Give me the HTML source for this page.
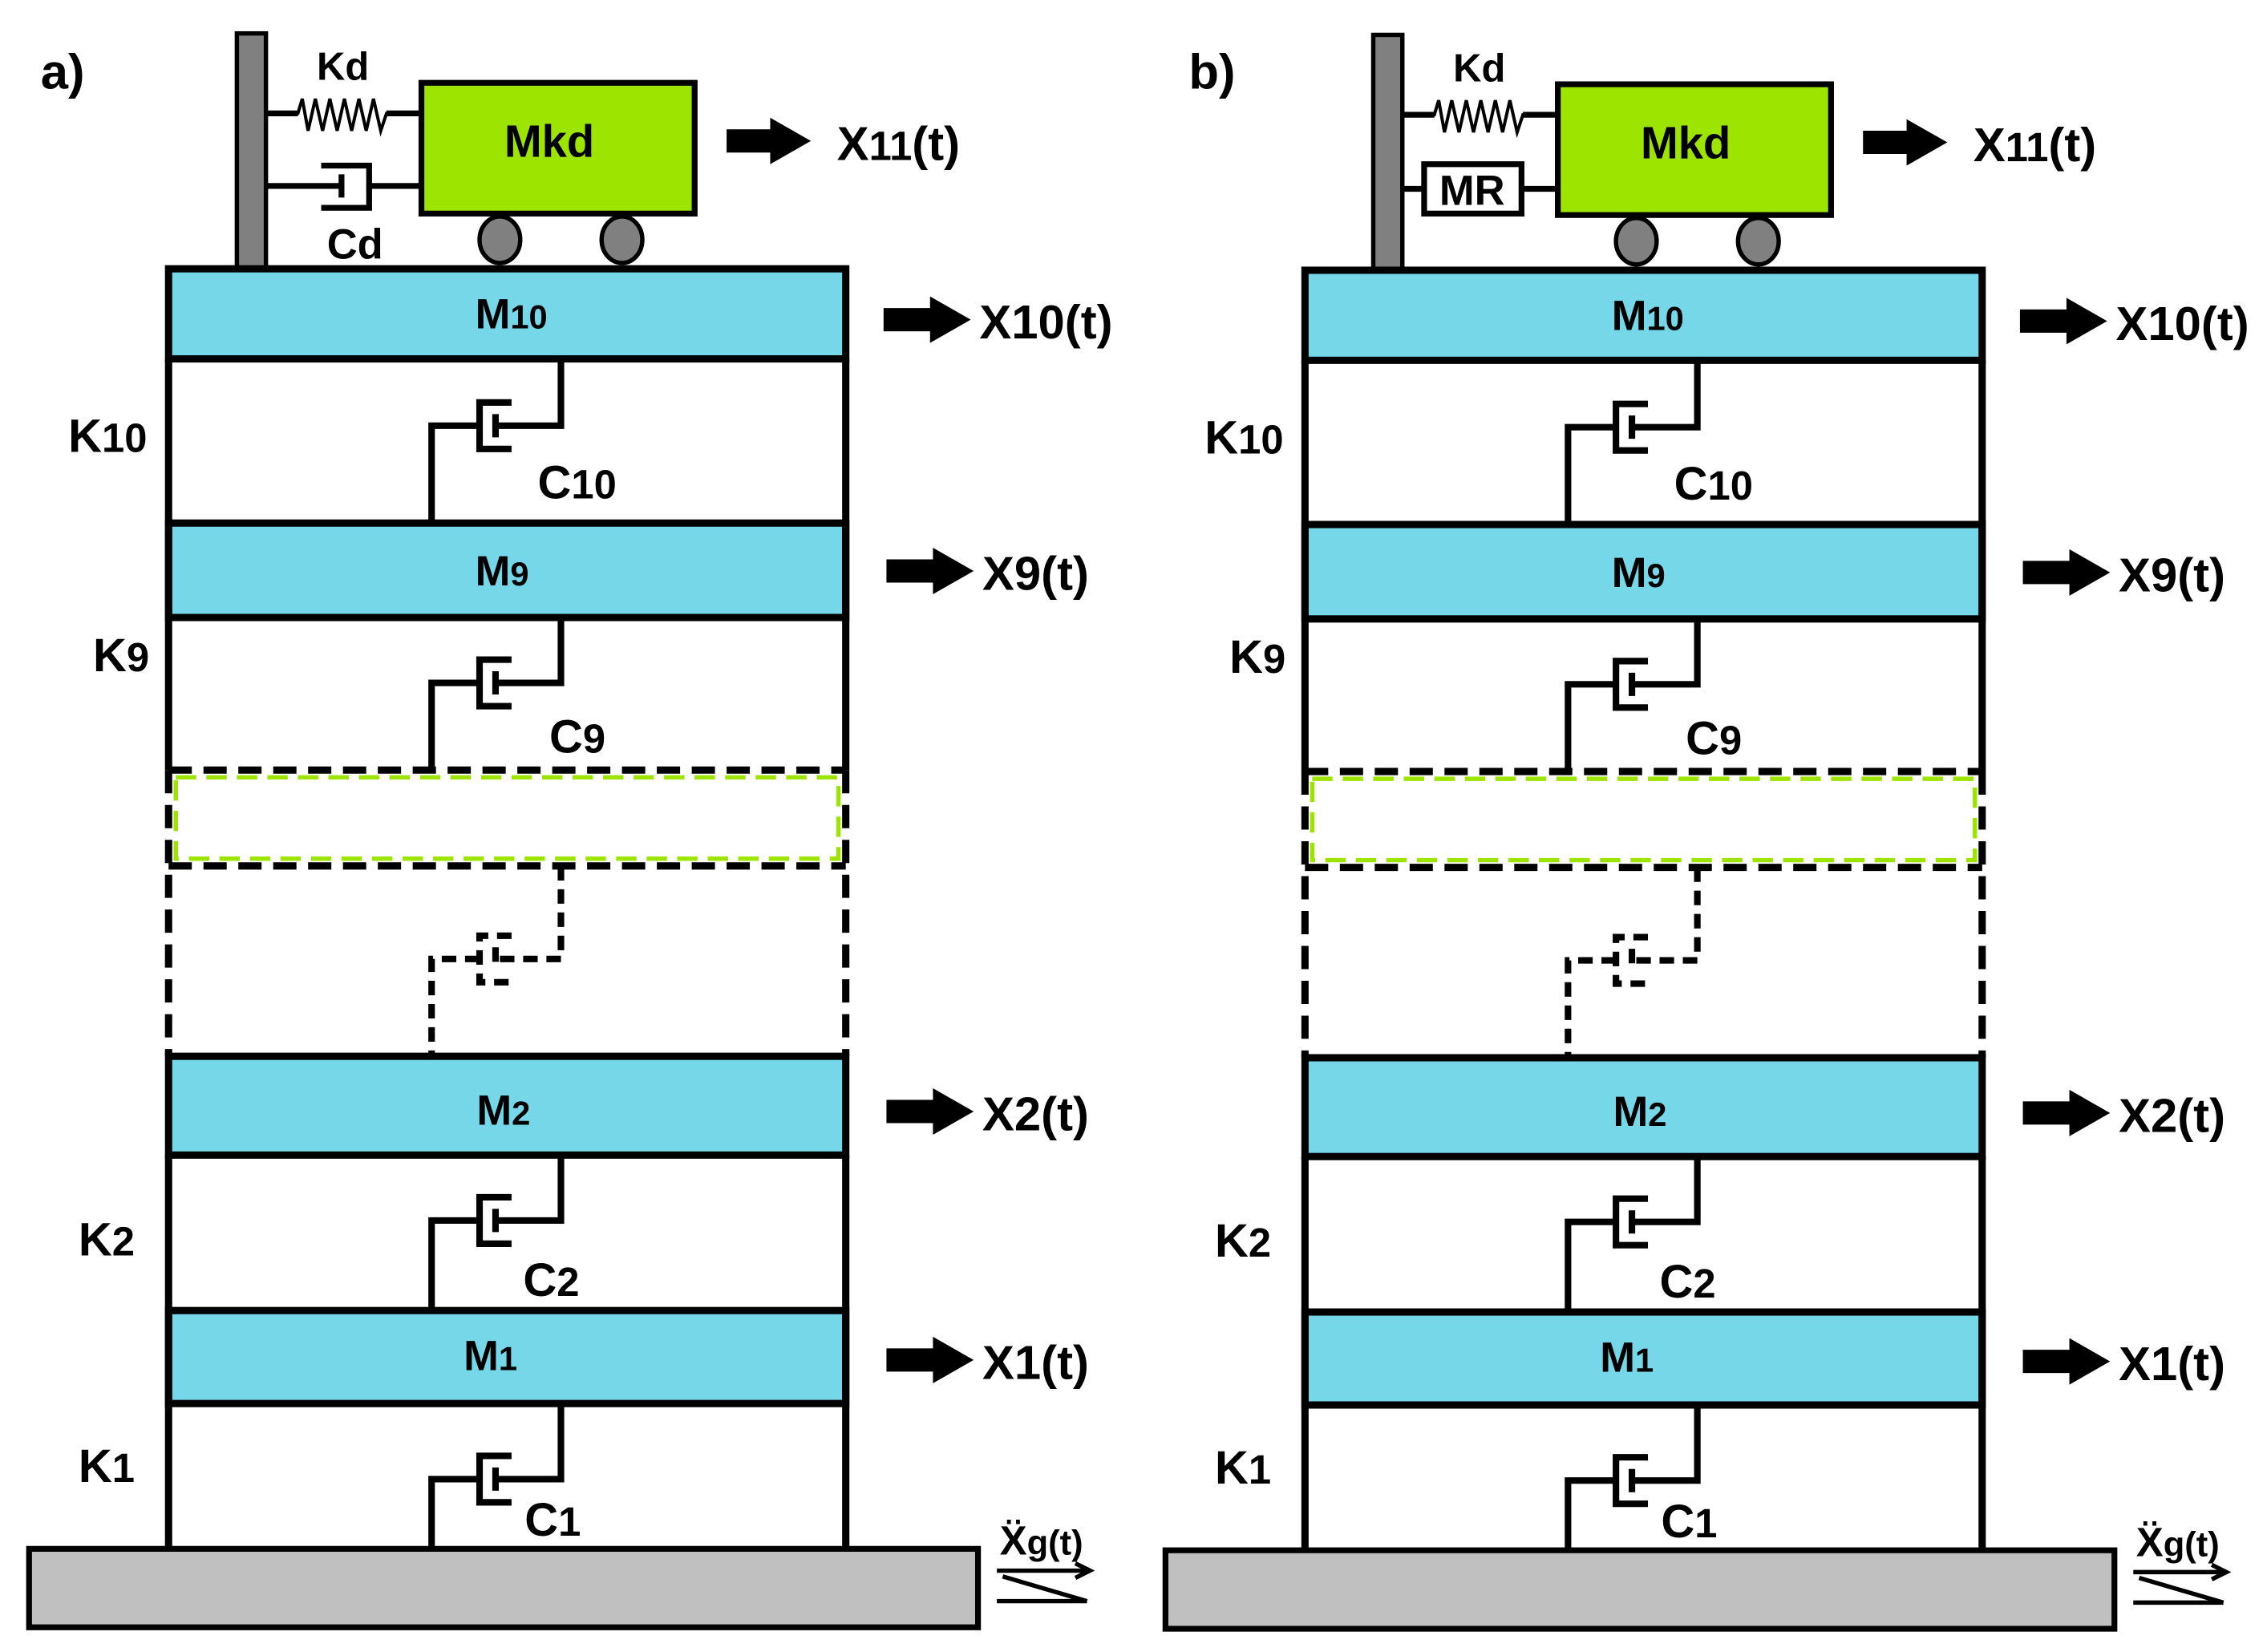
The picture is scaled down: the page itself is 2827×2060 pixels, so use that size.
<!DOCTYPE html>
<html><head><meta charset="utf-8"><style>
html,body{margin:0;padding:0;background:#fff;}
svg{display:block;}
text{font-family:"Liberation Sans Narrow","Liberation Sans",sans-serif;font-weight:bold;fill:#000;}
</style></head><body>
<svg width="2827" height="2060" viewBox="0 0 1560 1137" preserveAspectRatio="none" xmlns="http://www.w3.org/2000/svg">
<defs>
<g id="bld">
  <rect x="163" y="23" width="20" height="162" fill="#808080" stroke="#000" stroke-width="3"/>
  <path d="M183 78 H205 L208 68 L212 90 L217 68 L222 90 L227 68 L232 90 L237 68 L242 90 L247 68 L252 90 L257 68 L262 90 L266 78 H289" fill="none" stroke="#000" stroke-width="2.2"/>
  <path d="M183 78 H205 M266 78 H289" stroke="#000" stroke-width="4"/>
  <rect x="290" y="57" width="188" height="90" fill="#9de400" stroke="#000" stroke-width="4"/>
  <ellipse cx="344" cy="165" rx="14" ry="16" fill="#808080" stroke="#000" stroke-width="3"/>
  <ellipse cx="428" cy="165" rx="14" ry="16" fill="#808080" stroke="#000" stroke-width="3"/>
  <polygon points="500,89 530,89 530,81 558,97 530,113 530,105 500,105" fill="#000"/>
  <g fill="#76d7e8" stroke="#000" stroke-width="5">
    <rect x="116" y="185" width="466" height="62"/>
    <rect x="116" y="360" width="466" height="65"/>
    <rect x="116" y="727" width="466" height="68"/>
    <rect x="116" y="902" width="466" height="64"/>
  </g>
  <g stroke="#000" stroke-width="5">
    <line x1="116" y1="247" x2="116" y2="530"/><line x1="582" y1="247" x2="582" y2="530"/>
    <line x1="116" y1="795" x2="116" y2="1066"/><line x1="582" y1="795" x2="582" y2="1066"/>
  </g>
  <g stroke="#000" stroke-width="5" stroke-dasharray="16 8" fill="none">
    <line x1="116" y1="530" x2="116" y2="727"/><line x1="582" y1="530" x2="582" y2="727"/>
    <line x1="116" y1="530" x2="582" y2="530"/><line x1="116" y1="596" x2="582" y2="596"/>
  </g>
  <rect x="121" y="535" width="456" height="56" fill="#fff" stroke="#9de400" stroke-width="3" stroke-dasharray="14 7"/>
  <g fill="none" stroke="#000" stroke-width="4.5">
    <path d="M386 247 V293 H341 M341 285 V301 M352 277 H330 V309 H352 M330 293 H297 V360"/>
    <path d="M386 425 V470 H341 M341 462 V478 M352 454 H330 V486 H352 M330 470 H297 V530"/>
    <path d="M386 795 V840 H341 M341 832 V848 M352 824 H330 V856 H352 M330 840 H297 V902"/>
    <path d="M386 966 V1018 H341 M341 1010 V1026 M352 1002 H330 V1034 H352 M330 1018 H297 V1066"/>
    <path d="M386 596 V660 H341 M341 652 V668 M352 644 H330 V676 H352 M330 660 H297 V727" stroke-dasharray="10 6"/>
  </g>
  <g fill="#000">
    <polygon points="608,212 640,212 640,204 668,220 640,236 640,228 608,228"/>
    <polygon points="610,385 642,385 642,377 670,393 642,409 642,401 610,401"/>
    <polygon points="610,757 642,757 642,749 670,765 642,781 642,773 610,773"/>
    <polygon points="610,928 642,928 642,920 670,936 642,952 642,944 610,944"/>
  </g>
  <rect x="20" y="1066" width="653" height="54" fill="#c0c0c0" stroke="#000" stroke-width="4"/>
  <path d="M686 1081 H748 M740 1076 L750 1081 L740 1086 M690 1085 L748 1102 M686 1102 H748" fill="none" stroke="#000" stroke-width="3"/>
  <text x="378" y="108" font-size="31" text-anchor="middle">Mkd</text>
  <text x="218" y="55" font-size="27">Kd</text>
  <text x="576" y="110" font-size="33">X<tspan font-size="28">11</tspan>(t)</text>
  <text x="674" y="233" font-size="33">X10(t)</text>
  <text x="676" y="406" font-size="33">X9(t)</text>
  <text x="676" y="778" font-size="33">X2(t)</text>
  <text x="676" y="949" font-size="33">X1(t)</text>
  <text x="327" y="226" font-size="29">M<tspan font-size="23">10</tspan></text>
  <text x="327" y="403" font-size="29">M<tspan font-size="23">9</tspan></text>
  <text x="328" y="774" font-size="29">M<tspan font-size="23">2</tspan></text>
  <text x="319" y="943" font-size="29">M<tspan font-size="23">1</tspan></text>
  <text x="47" y="311" font-size="32">K<tspan font-size="28">10</tspan></text>
  <text x="64" y="462" font-size="32">K<tspan font-size="28">9</tspan></text>
  <text x="54" y="864" font-size="32">K<tspan font-size="28">2</tspan></text>
  <text x="54" y="1020" font-size="32">K<tspan font-size="28">1</tspan></text>
  <text x="370" y="343" font-size="32">C<tspan font-size="28">10</tspan></text>
  <text x="378" y="518" font-size="32">C<tspan font-size="28">9</tspan></text>
  <text x="360" y="892" font-size="32">C<tspan font-size="28">2</tspan></text>
  <text x="361" y="1057" font-size="32">C<tspan font-size="28">1</tspan></text>
  <text x="688" y="1070" font-size="28">Ẍ<tspan font-size="24">g(t)</tspan></text>
</g>
</defs>

<use href="#bld"/>
<g fill="none" stroke="#000" stroke-width="4">
  <path d="M183 128 H235 M235 120 V136 M221 114 H254 V143 H221 M254 128 H290"/>
</g>
<text x="28" y="61" font-size="34">a)</text>
<text x="225" y="178" font-size="29">Cd</text>

<g transform="translate(782,1)">
  <use href="#bld"/>
  <path d="M183 129 H198 M265 129 H290" stroke="#000" stroke-width="4"/>
  <rect x="198" y="112" width="67" height="34" fill="#fff" stroke="#000" stroke-width="4"/>
  <text x="231" y="140" font-size="29" text-anchor="middle">MR</text>
  <text x="36" y="60" font-size="34">b)</text>
</g>
</svg>
</body></html>
